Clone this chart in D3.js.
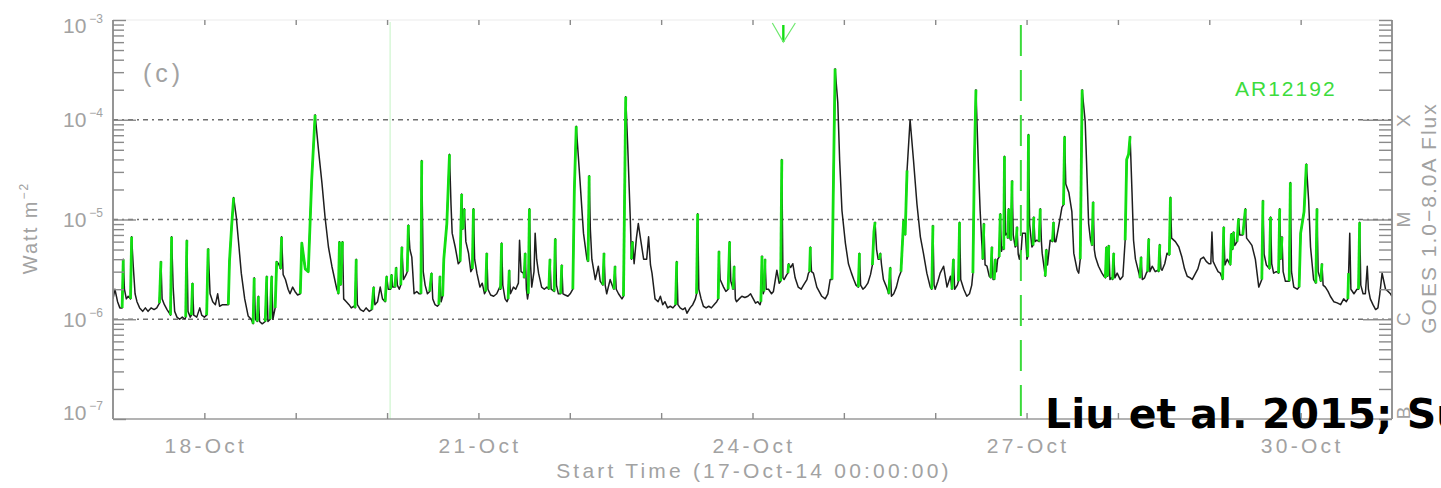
<!DOCTYPE html>
<html>
<head>
<meta charset="utf-8">
<script src="https://cdn.jsdelivr.net/npm/d3@7"></script>
<style>
  html, body { margin: 0; padding: 0; background: #fff; }
  svg { display: block; }
</style>
</head>
<body>
<svg id="chart" width="1441" height="488"></svg>
<script>
// GOES 1.0–8.0 Å soft X-ray flux, 17–31 Oct 2014.
// Each sample: [hours since 17-Oct-14 00:00 UT, flux in 1e-6 W m^-2, 1 = rise of an AR12192 flare]
const goesFlux = [
  [0.0,1.6],[0.5,2.0],[1.2,1.5],[1.8,1.3],[2.4,1.3],[2.7,4.0,1],[3.0,2.0],[3.5,1.6],[4.0,1.7],[4.6,1.6],
  [4.9,6.7,1],[5.3,3.5],[5.8,1.8],[6.3,1.5],[7.0,1.3],[7.8,1.2],[8.5,1.3],[9.2,1.2],[10.0,1.3],[10.8,1.25],
  [11.5,1.3],[12.2,1.45],[12.6,3.8,1],[12.9,1.6],[13.5,1.4],[14.2,1.25],[14.8,1.15],[15.1,1.1],[15.4,6.7,1],[15.8,2.1],
  [16.2,1.2],[16.8,1.05],[17.5,1.0],[18.2,1.05],[18.9,1.0],[19.1,1.05],[19.4,6.2,1],[19.7,1.2],[20.3,1.05],[20.6,1.1],
  [20.9,2.3,1],[21.2,1.1],[22.0,1.05],[22.8,1.3],[23.3,1.1],[24.0,1.05],[24.6,1.1],[25.0,5.1,1],[25.5,1.8],[26.2,1.5],
  [26.9,1.4],[27.5,1.8],[28.0,1.35],[28.8,1.4],[29.5,1.4],[30.3,1.4],[30.6,3.8,1],[31.2,9.0,1],[31.7,16.6,1],[32.4,10.5],
  [33.1,5.3],[33.7,2.9],[34.6,1.6],[35.5,1.08],[36.3,1.0],[36.8,0.9],[37.1,2.6,1],[37.4,1.0],[37.9,0.95],[38.2,1.7,1],
  [38.5,0.95],[39.2,0.9],[40.0,0.95],[40.4,2.7,1],[40.7,0.95],[41.3,1.0],[41.7,2.7,1],[42.0,1.0],[42.6,1.3],[43.0,3.8,1],
  [43.5,3.6],[44.0,3.2],[44.3,6.7,1],[44.7,2.8],[45.3,2.5],[46.0,2.0],[46.5,1.8],[47.2,2.1],[47.8,1.9],[48.5,1.75],
  [49.2,1.8],[49.6,5.8,1],[50.5,3.2,1],[51.3,3.0,1],[52.2,25,1],[53.1,112,1],[54.0,49],[54.9,23],[55.7,10.6],[56.6,5.3],
  [57.5,3.4],[58.8,2.0],[59.2,1.8],[59.5,6.0,1],[59.8,2.2],[60.3,6.0,1],[60.6,1.6],[61.3,1.5],[62.0,1.4],[62.6,1.3],
  [63.3,1.35],[63.6,1.3],[63.9,4.0,1],[64.2,1.4],[65.0,1.25],[65.8,1.2],[66.5,1.3],[67.3,1.2],[68.0,1.25],[68.5,2.1,1],
  [68.8,1.4],[69.5,1.5],[70.2,2.1],[70.8,1.6],[71.5,1.5],[71.9,2.7,1],[72.3,2.0],[72.9,2.0],[73.2,2.8,1],[73.5,2.1],
  [74.1,2.1],[74.4,3.3,1],[74.7,2.2],[75.2,2.0],[75.6,2.2],[75.9,5.3,1],[76.3,2.5],[77.0,2.8],[77.3,3.0],[77.6,8.8,1],
  [78.0,5.0],[78.5,4.2],[79.1,1.8],[79.8,1.9],[80.4,1.8],[80.9,1.8],[81.1,39,1],[81.5,3.0],[82.0,2.2],[82.6,1.8],
  [83.2,1.9],[83.7,2.9,1],[84.0,1.6],[84.6,1.4],[85.2,1.35],[85.6,1.4],[85.9,2.7,1],[86.2,1.5],[86.6,1.7],[86.9,4.0,1],
  [87.7,9.1,1],[88.4,45,1],[88.8,14],[89.1,7.3],[89.9,5.3],[90.7,3.6],[91.2,3.8],[91.6,18,1],[91.9,8.0],[92.3,12.8,1],
  [92.7,6.0],[93.4,4.6],[94.0,3.0],[94.4,3.2],[94.7,12.8,1],[95.0,4.0],[95.6,2.9],[96.4,2.1],[97.0,2.3],[97.6,1.8],
  [97.9,1.9],[98.2,4.6,1],[98.5,2.0],[99.2,1.75],[100.0,1.7],[100.8,1.8],[101.6,2.1],[101.8,2.0],[102.1,5.8,1],[102.4,2.2],
  [103.0,1.6],[103.5,1.5],[103.8,1.6],[104.1,3.1,1],[104.4,1.8],[105.2,2.1],[105.8,2.0],[106.5,2.3],[106.8,6.2],[107.2,3.0],
  [107.8,2.9],[108.0,2.6],[108.3,4.6,1],[108.6,2.0],[108.9,1.6],[109.1,1.8],[109.4,12.8,1],[109.7,3.5],[110.0,2.1],[110.6,3.0],
  [110.9,7.3],[111.3,4.0],[111.8,2.9],[112.6,2.1],[113.3,2.0],[114.0,2.1],[114.5,2.0],[114.8,4.0,1],[115.1,2.0],[115.9,1.9],
  [116.2,6.4,1],[116.5,2.2],[117.0,1.8],[117.6,1.8],[117.9,3.5,1],[118.2,1.8],[118.8,1.75],[119.5,1.7],[120.1,1.8],[120.8,2.0],
  [121.2,20,1],[121.7,86,1],[122.7,24],[123.6,7.3],[124.5,4.0],[124.8,3.8],[125.1,27.5,1],[125.4,8.0],[125.8,4.0],[126.7,2.5],
  [127.5,3.4],[128.0,2.4],[128.7,2.2],[129.0,4.6,1],[129.3,2.2],[129.7,1.8],[130.6,2.5],[131.3,2.1],[131.6,2.0],[131.9,3.4,1],
  [132.2,2.0],[132.8,1.8],[133.7,1.6],[134.1,1.7],[134.7,170,1],[135.2,57],[135.6,21],[135.9,10],[136.2,4.0],[136.5,6.0,1],
  [136.9,3.6],[137.5,6.5],[138.0,9.1],[138.7,6.0],[139.4,4.0],[140.2,4.0],[140.7,6.7],[141.2,3.5],[141.6,2.9],[142.4,1.6],
  [143.2,1.5],[143.8,1.7],[144.4,1.4],[145.0,1.5],[145.7,1.3],[146.4,1.35],[147.1,1.3],[147.8,1.4],[148.1,3.8,1],[148.4,1.4],
  [149.0,1.3],[149.7,1.25],[150.3,1.3],[150.8,1.15],[151.6,1.3],[152.3,1.4],[153.0,1.6],[153.3,1.8],[153.6,11.4,1],[153.9,2.0],
  [154.5,1.6],[155.1,1.35],[155.8,1.3],[156.5,1.35],[157.2,1.3],[157.9,1.4],[158.6,1.5],[159.0,1.6],[159.2,4.8,1],[159.5,2.5],
  [160.4,2.1],[161.0,1.9],[161.6,2.0],[162.0,6.0,1],[162.3,2.4],[162.9,2.0],[163.2,3.4,1],[163.5,1.6],[163.8,1.5],[164.5,1.6],
  [165.2,1.7],[166.0,1.65],[166.8,1.7],[167.5,1.8],[168.2,1.6],[168.8,1.45],[169.4,1.5],[170.0,1.4],[170.2,1.5],[170.5,4.3,1],
  [170.8,1.8],[171.0,1.9],[171.3,4.0,1],[171.6,2.0],[172.2,2.0],[173.0,1.8],[173.5,1.9],[174.4,3.1],[175.0,2.3],[175.4,2.4],
  [175.7,40,1],[176.0,2.6],[176.3,2.5],[177.0,2.8],[177.3,2.9],[177.5,3.6,1],[178.0,3.3],[178.6,3.6],[179.2,2.6],[180.0,2.1],
  [180.8,2.0],[181.4,2.2],[182.3,2.5],[182.7,2.9],[183.0,3.0],[183.2,5.3,1],[183.5,3.0],[184.0,2.9],[184.9,2.1],[185.5,1.9],
  [186.2,1.7],[187.1,1.6],[187.8,1.8],[188.4,2.5],[188.9,2.5],[189.3,30,1],[189.7,325,1],[190.4,150],[190.9,39],[191.5,12.3],
  [192.4,5.8],[193.2,3.6],[194.0,2.9],[194.6,2.5],[195.2,2.2],[195.8,2.1],[196.1,4.6,1],[196.4,2.2],[197.0,2.0],[197.6,2.1],
  [198.3,2.3],[199.0,2.8],[199.5,3.5],[199.9,7.5,1],[200.2,9.4,1],[200.6,5.0],[201.0,4.0],[201.3,4.0],[201.6,4.6,1],[201.9,3.5],
  [202.4,2.5],[203.0,2.2],[203.4,2.0],[203.8,1.8],[204.2,3.3,1],[204.5,1.7],[205.1,1.8],[205.8,2.1],[206.4,2.6],[207.0,3.0],
  [207.7,9.8,1],[208.1,7.0],[208.6,31,1],[209.4,100],[210.3,39],[211.2,14.3],[212.1,6.7],[212.9,4.6],[213.8,2.9],[214.7,2.1],
  [215.1,2.0],[215.4,8.7,1],[215.7,2.2],[216.0,2.0],[216.7,2.4],[217.3,2.9],[218.2,3.4],[219.1,2.1],[220.0,2.7],[220.4,2.0],
  [220.8,4.0,1],[221.1,2.0],[221.8,2.2],[222.1,2.4],[222.4,9.4,1],[222.7,2.5],[223.5,2.0],[224.3,1.7],[225.0,1.8],[225.6,2.2],
  [225.9,2.9],[226.3,40,1],[226.7,200,1],[227.3,39],[227.8,12.3],[228.2,6.2],[228.5,4.0],[228.8,9.1,1],[229.1,3.5],[229.6,3.4],
  [230.2,2.7],[230.6,2.6],[230.9,5.3,1],[231.2,2.5],[231.5,2.5],[231.8,4.0,1],[232.1,3.0],[232.4,4.0],[232.8,4.2],[233.1,11.4,1],
  [233.4,4.8],[233.7,5.3],[234.0,5.0],[234.2,43,1],[234.5,7.0],[234.9,7.3],[235.1,6.5],[235.3,12.8,1],[235.6,6.5],[235.9,6.2],
  [236.2,24.5,1],[236.5,7.0],[237.0,5.3],[237.2,5.4],[237.5,8.4,1],[237.8,4.5],[238.1,4.0],[238.6,5.0],[238.9,7.3],[239.7,7.3],
  [240.1,4.0],[240.3,4.2],[240.5,71,1],[240.8,9.0],[241.4,5.3],[241.7,5.5],[241.9,10.6,1],[242.2,6.0],[242.7,6.2],[243.3,6.0],
  [243.6,12.8,1],[243.9,6.0],[244.1,4.6],[244.9,2.7],[245.2,5.0,1],[245.5,3.5],[246.2,6.2],[246.8,6.0],[247.1,9.4,1],[247.4,6.0],
  [247.7,6.0],[248.4,8.4],[249.3,13.3],[249.7,14],[250.0,68,1],[250.3,22.7],[251.1,18.7],[251.9,12],[252.4,4.6],[253.3,3.1],
  [253.7,2.9],[254.1,4.0],[254.6,200,1],[255.4,96],[255.9,26],[256.3,9.1],[256.8,6.2],[257.2,5.5],[257.5,15,1],[257.8,5.0],
  [258.1,4.2],[258.9,3.4],[259.8,2.9],[260.3,2.7],[260.7,2.6],[261.0,5.3,1],[261.3,2.7],[261.6,5.5,1],[261.9,2.5],[262.3,2.6],
  [262.6,2.5],[262.9,4.6,1],[263.2,2.6],[263.8,2.9],[264.6,2.5],[265.3,2.7],[265.9,6.2],[266.3,40,1],[266.8,45,1],[267.2,68,1],
  [267.7,18.7],[268.1,6.2],[268.6,4.0],[269.5,2.9],[269.8,2.6],[270.1,4.2,1],[270.4,2.5],[271.0,2.6],[271.6,3.0],[271.8,3.0],
  [272.1,6.4,1],[272.4,3.0],[273.0,3.4],[273.8,3.0],[274.5,3.1],[274.7,3.0],[275.0,5.6,1],[275.3,3.2],[275.6,3.1],[276.3,3.6],
  [276.9,4.6],[277.5,4.4],[277.8,16.7,1],[278.1,6.5],[279.1,6.0],[280.0,5.3],[280.8,4.2],[281.5,3.2],[282.2,2.7],[283.0,2.6],
  [283.5,2.5],[284.4,2.9],[285.0,3.2],[285.7,4.0],[286.5,4.2],[287.2,3.8],[287.9,3.6],[288.4,3.6],[288.7,7.5],[289.0,3.8],
  [289.6,3.4],[290.3,3.0],[290.9,2.9],[291.5,2.5],[291.8,8.4,1],[292.1,3.5],[292.7,4.0],[293.5,3.5],[293.8,7.2,1],[294.1,5.0],
  [294.4,7.5,1],[294.7,5.5],[295.3,6.0],[295.7,10.2,1],[296.0,7.0],[296.8,7.0],[297.5,12.8,1],[297.8,6.5],[298.5,6.0],[299.2,5.5],
  [300.1,4.0],[301.0,2.1],[301.8,2.5],[302.1,15.5,1],[302.4,4.5],[303.0,3.5],[303.8,3.2],[304.1,10.6,1],[304.4,3.6],[304.9,2.9],
  [305.6,3.0],[306.2,2.9],[306.5,12.8,1],[306.8,4.0],[307.1,6.7,1],[307.4,3.0],[308.0,2.4],[309.0,2.4],[309.3,23.5,1],[309.6,3.0],
  [310.2,2.1],[311.1,2.0],[311.6,2.1],[312.0,7.3,1],[312.9,12,1],[313.5,36,1],[314.1,15.5],[314.6,5.3],[315.4,2.5],[316.0,2.3],
  [316.3,12.8,1],[316.6,3.0],[317.3,2.4],[317.6,3.6,1],[317.9,2.2],[318.5,2.1],[319.2,1.9],[319.8,1.7],[320.7,1.5],[321.6,1.46],
  [322.5,1.4],[323.3,1.6],[324.0,1.5],[324.4,1.6],[324.6,2.9,1],[324.9,7.3],[325.2,2.0],[326.0,1.8],[326.8,2.0],[327.2,2.0],
  [327.5,9.4,1],[327.8,2.2],[328.4,1.8],[329.0,1.8],[329.5,3.4],[329.8,2.0],[330.3,1.6],[331.0,1.4],[331.7,1.25],[332.3,1.3],
  [332.8,1.8],[333.4,2.9],[334.3,2.0],[335.0,1.9],[335.6,1.8],[336.0,1.7]
];

// Time axis: 17-Oct-14 00:00 to 31-Oct-14 00:00 UT
const startDay = "2014-10-17";
const spanHours = 336;
const labelDays = ["2014-10-18", "2014-10-21", "2014-10-24", "2014-10-27", "2014-10-30"];

// Flux axis and GOES classes
const fluxDomain = [1e-7, 1e-3];
const levelLines = [1e-6, 1e-5, 1e-4];
const classLetters = ["B", "C", "M", "X"];
const classLevels = [1e-7, 1e-6, 1e-5, 1e-4];

// Event markers, hours since start
const faintLineHour = 72.8;
const dashedLineHour = 238.5;
const arrowHour = 176.1;

const regionLabel = "AR12192";
const panelLabel = "(c)";
const citation = "Liu et al. 2015; Su";

// ---------------------------------------------------------------
const L = 113, R = 1392, T = 20, B = 419;
const t0 = Date.parse(startDay + "T00:00:00Z");
const toDate = h => new Date(t0 + h * 3600e3);

const x = d3.scaleUtc().domain([toDate(0), toDate(spanHours)]).range([L, R]);
const y = d3.scaleLog().domain(fluxDomain).range([B, T]);

const svg = d3.select("#chart");
const axisGrey = "#8a8a8a";
const textGrey = "#a2a2a2";
const green = "#12df12";
const idlFont = "'Liberation Sans', Arial, sans-serif";

svg.append("defs").append("clipPath").attr("id", "plot")
  .append("rect").attr("x", L).attr("y", T).attr("width", R - L).attr("height", B - T);

// GOES class level lines
svg.append("g").selectAll("line").data(levelLines).join("line")
  .attr("x1", L).attr("x2", R)
  .attr("y1", d => y(d)).attr("y2", d => y(d))
  .attr("stroke", "#6e6e6e").attr("stroke-width", 1.6)
  .attr("stroke-dasharray", "5,4,2,4");

// marker lines
svg.append("line")
  .attr("x1", x(toDate(faintLineHour))).attr("x2", x(toDate(faintLineHour)))
  .attr("y1", T + 2).attr("y2", B)
  .attr("stroke", "#d2f6d2").attr("stroke-width", 1.3);

// flux curve
const pts = goesFlux.map(d => ({ t: toDate(d[0]), v: d[1] * 1e-6, ar: d[2] || 0 }));
const line = d3.line().x(d => x(d.t)).y(d => y(d.v));
const curve = svg.append("g").attr("clip-path", "url(#plot)");
curve.append("path").datum(pts)
  .attr("d", line).attr("fill", "none")
  .attr("stroke", "#1e1e1e").attr("stroke-width", 1.5)
  .attr("stroke-linejoin", "round");

// AR12192 flare rises
const runs = [];
let cur = null;
pts.forEach((p, i) => {
  if (i > 0 && p.ar) {
    if (!cur) { cur = [pts[i - 1]]; runs.push(cur); }
    cur.push(p);
  } else cur = null;
});
curve.append("g").selectAll("path").data(runs).join("path")
  .attr("d", line).attr("fill", "none")
  .attr("stroke", green).attr("stroke-width", 2.8)
  .attr("stroke-linejoin", "round");

// dashed event line
svg.append("line")
  .attr("x1", x(toDate(dashedLineHour))).attr("x2", x(toDate(dashedLineHour)))
  .attr("y1", 25).attr("y2", B)
  .attr("stroke", "#3ada3a").attr("stroke-width", 2)
  .attr("stroke-dasharray", "31,14");

// arrow marker
const ax = x(toDate(arrowHour));
const arrow = svg.append("g").attr("stroke", green).attr("fill", "none");
arrow.append("line").attr("x1", ax).attr("x2", ax).attr("y1", 25).attr("y2", 42).attr("stroke-width", 2.4);
arrow.append("path").attr("d", `M${ax - 11},23 L${ax},42 L${ax + 12},23`)
  .attr("stroke-width", 1.2).attr("stroke", "#6fe86f");

// ---------------- axes ----------------
const frame = svg.append("g").attr("stroke", axisGrey).attr("fill", "none");
frame.append("line").attr("x1", L).attr("x2", L).attr("y1", T).attr("y2", B).attr("stroke-width", 1.8);
frame.append("line").attr("x1", R).attr("x2", R).attr("y1", T).attr("y2", B).attr("stroke-width", 1.8);
frame.append("line").attr("x1", L).attr("x2", R).attr("y1", B).attr("y2", B).attr("stroke-width", 1.6).attr("stroke", "#9a9a9a");
frame.append("line").attr("x1", L).attr("x2", R).attr("y1", T).attr("y2", T).attr("stroke-width", 1.2).attr("stroke", "#ececec");

const styleAxis = g => {
  g.select(".domain").remove();
  g.selectAll(".tick line").attr("stroke", axisGrey).attr("stroke-width", 1.4);
  g.selectAll(".tick text").remove();
};

const isDecade = v => Math.abs(Math.log10(v) - Math.round(Math.log10(v))) < 1e-9;
const minorTicks = y.ticks().filter(v => !isDecade(v));
const endTicks = fluxDomain;

// left axis, inward ticks
svg.append("g").attr("transform", `translate(${L},0)`)
  .call(d3.axisRight(y).tickValues(minorTicks).tickSize(11).tickFormat("")).call(styleAxis);
svg.append("g").attr("transform", `translate(${L},0)`)
  .call(d3.axisRight(y).tickValues(levelLines).tickSize(23).tickFormat("")).call(styleAxis);
svg.append("g").attr("transform", `translate(${L},0)`)
  .call(d3.axisRight(y).tickValues(endTicks).tickSize(13).tickFormat("")).call(styleAxis);

// right axis, inward ticks
svg.append("g").attr("transform", `translate(${R},0)`)
  .call(d3.axisLeft(y).tickValues(minorTicks).tickSize(13).tickFormat("")).call(styleAxis);
svg.append("g").attr("transform", `translate(${R},0)`)
  .call(d3.axisLeft(y).tickValues(levelLines).tickSize(29).tickFormat("")).call(styleAxis);
svg.append("g").attr("transform", `translate(${R},0)`)
  .call(d3.axisLeft(y).tickValues(endTicks).tickSize(13).tickFormat("")).call(styleAxis);

// daily ticks on bottom and top
const days = d3.utcDay.range(toDate(24), toDate(spanHours));
svg.append("g").attr("transform", `translate(0,${B})`)
  .call(d3.axisTop(x).tickValues(days).tickSize(6).tickFormat("")).call(styleAxis);
svg.append("g").attr("transform", `translate(0,${T})`)
  .call(d3.axisBottom(x).tickValues(days).tickSize(5).tickFormat("")).call(styleAxis);

// y tick labels 10^n
const decadeTicks = y.ticks().filter(isDecade);
const nudge = v => v === fluxDomain[1] ? 5 : v === fluxDomain[0] ? -7 : 0;
const yl = svg.append("g").attr("font-family", idlFont).attr("fill", textGrey);
decadeTicks.forEach(v => {
  const t = yl.append("text")
    .attr("x", 103).attr("y", y(v) + nudge(v) + 7.5)
    .attr("text-anchor", "end").attr("font-size", 21);
  t.append("tspan").text("10");
  t.append("tspan").attr("font-size", 12).attr("dx", 3).attr("dy", -10)
    .text("\u2212" + Math.round(-Math.log10(v)));
});

// x tick labels
const xl = svg.append("g").attr("font-family", idlFont).attr("fill", textGrey)
  .attr("font-size", 21).attr("letter-spacing", 3.3).attr("text-anchor", "middle");
labelDays.forEach(s => {
  const d = new Date(s + "T00:00:00Z");
  xl.append("text").attr("x", x(d) + 1.5).attr("y", 453).text(d3.utcFormat("%d-%b")(d));
});

// axis titles
svg.append("text")
  .attr("x", (L + R) / 2 + 1.5).attr("y", 478)
  .attr("text-anchor", "middle").attr("font-family", idlFont).attr("font-size", 21)
  .attr("letter-spacing", 3.2).attr("fill", textGrey)
  .text("Start Time (" + d3.utcFormat("%d-%b-%y %H:%M:%S")(toDate(0)) + ")");

const ytitle = svg.append("text")
  .attr("transform", "translate(37,228) rotate(-90)")
  .attr("text-anchor", "middle").attr("font-family", idlFont).attr("font-size", 20)
  .attr("letter-spacing", 2).attr("fill", textGrey);
ytitle.append("tspan").text("Watt m");
ytitle.append("tspan").attr("font-size", 12).attr("dy", -9).text("\u22122");

// GOES class letters on the right axis
const classNudge = { B: -6, X: 1 };
classLevels.forEach((v, i) => {
  const c = classLetters[i];
  svg.append("text")
    .attr("transform", `translate(1403,${y(v) + (classNudge[c] || 0)}) rotate(-90)`)
    .attr("text-anchor", "middle").attr("dominant-baseline", "central")
    .attr("font-family", idlFont).attr("font-size", 19).attr("fill", textGrey)
    .text(c);
});

svg.append("text")
  .attr("transform", "translate(1436,218) rotate(-90)")
  .attr("text-anchor", "middle").attr("font-family", idlFont).attr("font-size", 21)
  .attr("letter-spacing", 2).attr("fill", textGrey)
  .text("GOES 1.0\u22128.0A Flux");

// panel and region labels
svg.append("text").attr("x", 143).attr("y", 82)
  .attr("font-family", idlFont).attr("font-size", 25).attr("letter-spacing", 4)
  .attr("fill", textGrey).text(panelLabel);

svg.append("text").attr("x", 1235).attr("y", 96)
  .attr("font-family", idlFont).attr("font-size", 21).attr("letter-spacing", 2)
  .attr("fill", "#3ddc3d").text(regionLabel);

// citation overlay
svg.append("text").attr("x", 1045).attr("y", 428)
  .attr("font-family", "'DejaVu Sans', sans-serif").attr("font-weight", "bold")
  .attr("font-size", 41).attr("fill", "#000").text(citation);
</script>
</body>
</html>
